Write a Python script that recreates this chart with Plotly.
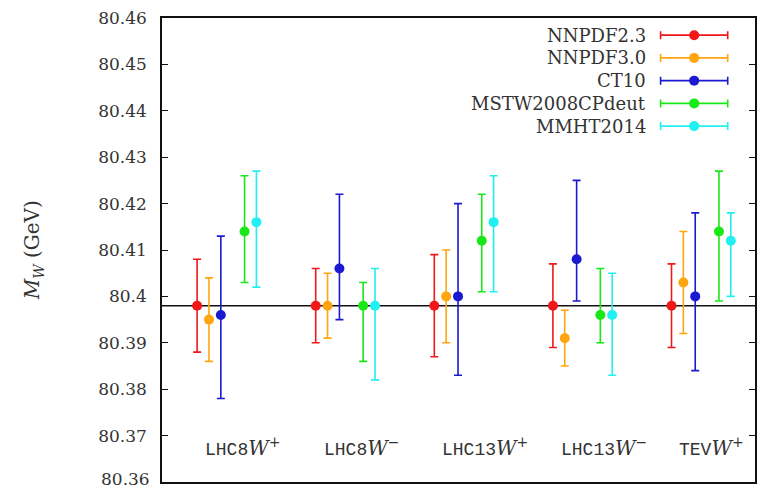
import plotly.graph_objects as go

# W-boson mass determinations per process and PDF set (GeV)
processes = ["LHC8", "LHC8", "LHC13", "LHC13", "TEV"]
charges = ["+", "−", "+", "−", "+"]

pdf_sets = ["NNPDF2.3", "NNPDF3.0", "CT10", "MSTW2008CPdeut", "MMHT2014"]
colors = ["#f01818", "#ffa510", "#1a1ad0", "#18e818", "#20f0f0"]

# central values
nnpdf23 = [80.398, 80.398, 80.398, 80.398, 80.398]
nnpdf30 = [80.395, 80.398, 80.400, 80.391, 80.403]
ct10 = [80.396, 80.406, 80.400, 80.408, 80.400]
mstw = [80.414, 80.398, 80.412, 80.396, 80.414]
mmht = [80.416, 80.398, 80.416, 80.396, 80.412]

# upper ends of the uncertainty bands
nnpdf23_hi = [80.408, 80.406, 80.409, 80.407, 80.407]
nnpdf30_hi = [80.404, 80.405, 80.410, 80.397, 80.414]
ct10_hi = [80.413, 80.422, 80.420, 80.425, 80.418]
mstw_hi = [80.426, 80.403, 80.422, 80.406, 80.427]
mmht_hi = [80.427, 80.406, 80.426, 80.405, 80.418]

# lower ends of the uncertainty bands
nnpdf23_lo = [80.388, 80.390, 80.387, 80.389, 80.389]
nnpdf30_lo = [80.386, 80.391, 80.390, 80.385, 80.392]
ct10_lo = [80.378, 80.395, 80.383, 80.399, 80.384]
mstw_lo = [80.403, 80.386, 80.401, 80.390, 80.399]
mmht_lo = [80.402, 80.382, 80.401, 80.383, 80.400]

reference_mw = 80.398

y_ticks = [80.36, 80.37, 80.38, 80.39, 80.40, 80.41, 80.42, 80.43, 80.44, 80.45, 80.46]
y_tick_text = ["80.36", "80.37", "80.38", "80.39", "80.4", "80.41", "80.42",
               "80.43", "80.44", "80.45", "80.46"]

centrals = [nnpdf23, nnpdf30, ct10, mstw, mmht]
highs = [nnpdf23_hi, nnpdf30_hi, ct10_hi, mstw_hi, mmht_hi]
lows = [nnpdf23_lo, nnpdf30_lo, ct10_lo, mstw_lo, mmht_lo]

offsets = [-0.25, -0.15, -0.05, 0.15, 0.25]
x_range = [-0.546, 4.454]

TEXT = "#333333"
SERIF = "DejaVu Serif"

fig = go.Figure()

# reference line across the full width
fig.add_trace(go.Scatter(
    x=x_range, y=[reference_mw, reference_mw], mode="lines",
    line=dict(color="#111111", width=1.6), showlegend=False, hoverinfo="skip"))

for name, col, c, hi, lo, off in zip(pdf_sets, colors, centrals, highs, lows, offsets):
    xs = [i + off for i in range(len(processes))]
    fig.add_trace(go.Scatter(
        x=xs, y=c, mode="markers", name=name,
        marker=dict(color=col, size=10),
        error_y=dict(type="data", symmetric=False,
                     array=[h - v for h, v in zip(hi, c)],
                     arrayminus=[v - l for v, l in zip(c, lo)],
                     color=col, thickness=1.6, width=4),
        showlegend=False))

# key in the upper right corner: name on the left, sample bar on the right
key_y0, key_step = 80.4563, 0.0049
key_text_x, key_mark_x, key_half = 3.555, 3.941, 0.283
for k, (name, col) in enumerate(zip(pdf_sets, colors)):
    yk = key_y0 - k * key_step
    fig.add_trace(go.Scatter(
        x=[key_mark_x], y=[yk], mode="markers",
        marker=dict(color=col, size=10),
        error_x=dict(type="constant", value=key_half, color=col, thickness=1.6, width=4),
        showlegend=False, hoverinfo="skip"))
    fig.add_annotation(x=key_text_x, y=yk, xref="x", yref="y", text=name,
                       showarrow=False, xanchor="right", yanchor="middle",
                       font=dict(family=SERIF, size=18, color=TEXT))

# process labels inside the frame
for i, (p, q) in enumerate(zip(processes, charges)):
    fig.add_annotation(
        x=i - 0.2, y=80.3675, xref="x", yref="y",
        text=(f"{p}<span style='font-family:{SERIF};font-size:20px'>"
              f"<i>W</i><sup>{q}</sup></span>"),
        showarrow=False, xanchor="left", yanchor="middle",
        font=dict(family="Liberation Mono", size=18, color=TEXT))

# lowest tick label sits on the frame edge; drawn explicitly so it is not dropped
fig.add_annotation(x=0, y=y_ticks[0], xref="paper", yref="y", text=y_tick_text[0],
                   showarrow=False, xanchor="right", yanchor="middle",
                   xshift=-10, yshift=3,
                   font=dict(family=SERIF, size=17, color=TEXT))

# y-axis title
fig.add_annotation(x=-0.217, y=0.5, xref="paper", yref="paper",
                   text="<i>M</i><sub><i>W</i></sub> (GeV)", textangle=-90,
                   showarrow=False, xanchor="center", yanchor="middle",
                   font=dict(family=SERIF, size=20, color=TEXT))

fig.update_xaxes(range=x_range, showticklabels=False, ticks="", showgrid=False,
                 zeroline=False, showline=True, mirror=True,
                 linecolor="#111111", linewidth=1.5)
fig.update_yaxes(range=[80.36, 80.46], tickvals=y_ticks[1:], ticktext=y_tick_text[1:],
                 ticks="inside", ticklen=6, tickwidth=1.2, tickcolor="#111111",
                 mirror="ticks", showline=True, linecolor="#111111", linewidth=1.5,
                 showgrid=False, zeroline=False, ticklabelstandoff=10,
                 tickfont=dict(family=SERIF, size=17, color=TEXT))

fig.update_layout(width=763, height=489,
                  margin=dict(l=162, r=6, t=18, b=7),
                  plot_bgcolor="white", paper_bgcolor="white",
                  showlegend=False)

fig.write_html("out.html")
